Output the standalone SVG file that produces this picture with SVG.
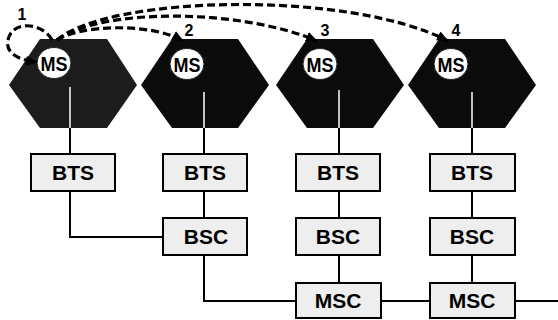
<svg xmlns="http://www.w3.org/2000/svg" width="558" height="320" viewBox="0 0 558 320">
  <style>
    .cell { fill: #0b0b0b; }
    .cell1 { fill: #1c1c1c; }
    .ms { fill: #ffffff; stroke: #222; stroke-width: 1; }
    .mslabel { font-family: "Liberation Sans", Arial, sans-serif; font-weight: bold; font-size: 21px; fill: #000; text-anchor: middle; }
    .box { fill: #eeeeee; stroke: #000; stroke-width: 2; }
    .boxlabel { font-family: "Liberation Sans", Arial, sans-serif; font-weight: bold; font-size: 21px; fill: #000; text-anchor: middle; }
    .num { font-family: "Liberation Sans", Arial, sans-serif; font-weight: bold; font-size: 16px; fill: #000; text-anchor: middle; }
    .wire { fill: none; stroke: #000; stroke-width: 2; }
    .feed { fill: none; stroke: #fff; stroke-width: 1.5; }
    .move { fill: none; stroke: #000; stroke-width: 3.2; stroke-dasharray: 8 4; marker-end: url(#head); }
  </style>
  <defs>
    <marker id="head" viewBox="0 0 12 10" refX="11" refY="5" markerWidth="12" markerHeight="10" markerUnits="userSpaceOnUse" orient="auto">
      <path d="M0,0 L12,5 L0,10 Z" fill="#000"/>
    </marker>
  </defs>

  <!-- radio cells -->
  <g id="cell1">
    <polygon class="cell1" points="9,85 40,39 107,39 137,85 107,128 40,128"/>
    <line class="feed" x1="70" y1="87" x2="70" y2="128"/>
    <ellipse class="ms" cx="54" cy="63" rx="17" ry="15.5"/>
    <text class="mslabel" x="54" y="71" textLength="27" lengthAdjust="spacingAndGlyphs">MS</text>
  </g>
  <g id="cell2">
    <polygon class="cell" points="141,85 172,39 238,39 269,85 238,128 172,128"/>
    <line class="feed" x1="204" y1="92" x2="204" y2="128"/>
    <ellipse class="ms" cx="187" cy="64" rx="17" ry="15.5"/>
    <text class="mslabel" x="187" y="72" textLength="27" lengthAdjust="spacingAndGlyphs">MS</text>
  </g>
  <g id="cell3">
    <polygon class="cell" points="276,85 307,39 373,39 404,85 373,128 307,128"/>
    <line class="feed" x1="339" y1="90" x2="339" y2="128"/>
    <ellipse class="ms" cx="320" cy="64" rx="17" ry="15.5"/>
    <text class="mslabel" x="320" y="72" textLength="27" lengthAdjust="spacingAndGlyphs">MS</text>
  </g>
  <g id="cell4">
    <polygon class="cell" points="408,85 439,39 505,39 536,85 505,128 439,128"/>
    <line class="feed" x1="472" y1="92" x2="472" y2="128"/>
    <ellipse class="ms" cx="451" cy="64" rx="17" ry="15.5"/>
    <text class="mslabel" x="451" y="72" textLength="27" lengthAdjust="spacingAndGlyphs">MS</text>
  </g>

  <!-- position labels -->
  <g id="labels">
    <text class="num" x="22" y="20">1</text>
    <text class="num" x="189" y="36">2</text>
    <text class="num" x="325" y="36">3</text>
    <text class="num" x="456" y="36">4</text>
  </g>

  <!-- wired links -->
  <g id="connectors">
    <path class="wire" d="M70,128 V154"/>
    <path class="wire" d="M204,128 V154"/>
    <path class="wire" d="M339,128 V154"/>
    <path class="wire" d="M472,128 V154"/>
    <path class="wire" d="M70,191 V237 H163"/>
    <path class="wire" d="M204,191 V218"/>
    <path class="wire" d="M204,255 V301 H296"/>
    <path class="wire" d="M339,191 V218"/>
    <path class="wire" d="M339,255 V283"/>
    <path class="wire" d="M472,191 V218"/>
    <path class="wire" d="M472,255 V283"/>
    <path class="wire" d="M381,301 H430"/>
    <path class="wire" d="M515,301 H558"/>

    <!-- mobile movement -->
    <path class="move" d="M52,40 C42,22 12,20 8,40 C5,53 18,60 37,62"/>
    <path class="move" d="M57,40 C80,25 150,22 183,41"/>
    <path class="move" d="M57,40 C100,8 240,8 317,41"/>
    <path class="move" d="M57,40 C110,-5 350,-10 448,41"/>
  </g>

  <!-- network elements -->
  <g id="bts1"><rect class="box" x="31" y="154" width="84" height="37"/><text class="boxlabel" x="73" y="180">BTS</text></g>
  <g id="bts2"><rect class="box" x="163" y="154" width="84" height="37"/><text class="boxlabel" x="205" y="180">BTS</text></g>
  <g id="bts3"><rect class="box" x="296" y="154" width="84" height="37"/><text class="boxlabel" x="338" y="180">BTS</text></g>
  <g id="bts4"><rect class="box" x="430" y="154" width="85" height="37"/><text class="boxlabel" x="472" y="180">BTS</text></g>
  <g id="bsc2"><rect class="box" x="163" y="218" width="84" height="37"/><text class="boxlabel" x="206" y="244">BSC</text></g>
  <g id="bsc3"><rect class="box" x="296" y="218" width="84" height="37"/><text class="boxlabel" x="338" y="244">BSC</text></g>
  <g id="bsc4"><rect class="box" x="430" y="218" width="85" height="37"/><text class="boxlabel" x="472" y="244">BSC</text></g>
  <g id="msc3"><rect class="box" x="296" y="283" width="85" height="35"/><text class="boxlabel" x="338" y="308">MSC</text></g>
  <g id="msc4"><rect class="box" x="430" y="283" width="85" height="35"/><text class="boxlabel" x="472" y="308">MSC</text></g>
</svg>
